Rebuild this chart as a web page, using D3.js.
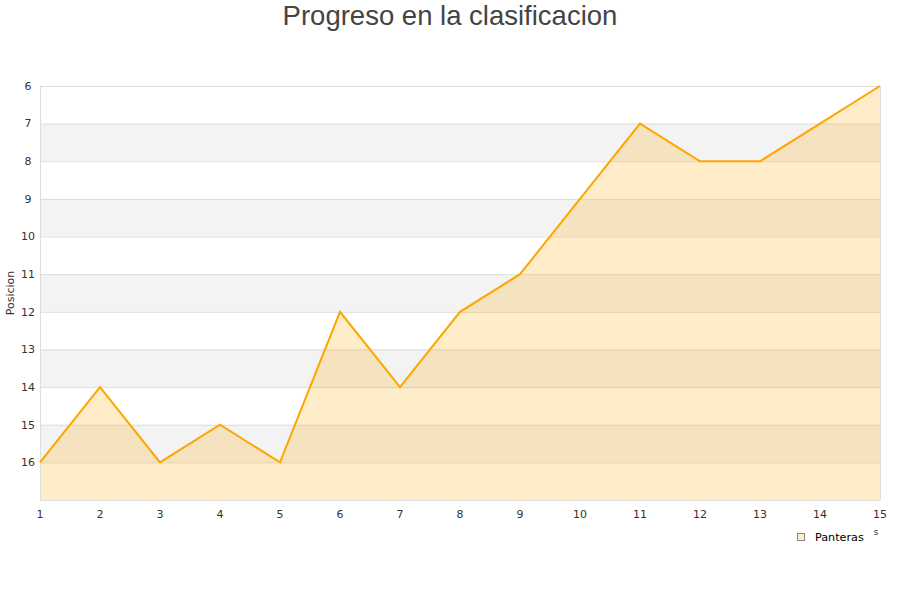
<!DOCTYPE html>
<html><head><meta charset="utf-8">
<script src="https://cdn.jsdelivr.net/npm/d3@7"></script>
<style>body{margin:0;background:#fff}svg{display:block}</style>
</head><body>
<svg id="c" width="900" height="600"></svg>
<script>
const rounds = [1,2,3,4,5,6,7,8,9,10,11,12,13,14,15];
const positions = [16,14,16,15,16,12,14,12,11,9,7,8,8,7,6];
const yTicks = [6,7,8,9,10,11,12,13,14,15,16];
const seriesName = "Panteras";
const title = "Progreso en la clasificacion";
const yTitle = "Posicion";

const svg = d3.select("#c");
const L = 40, R = 880, T = 86, B = 500;
const x = d3.scaleLinear().domain([1,15]).range([L,R]);
const y = d3.scaleLinear().domain([6,17]).range([T,B]);
const font = "'DejaVu Sans', Verdana, sans-serif";

// stripes
const bands = d3.range(6,17);
svg.append("g").selectAll("rect").data(bands).join("rect")
  .attr("x", L).attr("width", R-L)
  .attr("y", d=>y(d)).attr("height", d=>y(d+1)-y(d))
  .attr("fill", d=> d%2===1 ? "#f3f3f3" : "#ffffff");

// grid lines
svg.append("g").selectAll("line").data(yTicks).join("line")
  .attr("x1", L).attr("x2", R)
  .attr("y1", d=>y(d)+0.5).attr("y2", d=>y(d)+0.5)
  .attr("stroke", "#dddddd").attr("stroke-width", 1);

// area
const area = d3.area().x((d,i)=>x(rounds[i])).y0(y(17)).y1(d=>y(d));
svg.append("path").datum(positions).attr("d", area)
  .attr("fill", "#ffa500").attr("fill-opacity", 0.215);

// frame
svg.append("line").attr("x1",L+0.5).attr("x2",L+0.5).attr("y1",T).attr("y2",B).attr("stroke","#dddddd");
svg.append("line").attr("x1",R+0.5).attr("x2",R+0.5).attr("y1",T).attr("y2",B).attr("stroke","#dddddd");
svg.append("line").attr("x1",L).attr("x2",R).attr("y1",B+0.5).attr("y2",B+0.5).attr("stroke","#dddddd");

// line
const line = d3.line().x((d,i)=>x(rounds[i])).y(d=>y(d));
svg.append("path").datum(positions).attr("d", line)
  .attr("fill","none").attr("stroke","#ffa500").attr("stroke-width",2).attr("stroke-linejoin","miter");

// y tick labels
svg.append("g").selectAll("text").data(yTicks).join("text")
  .attr("x", 28).attr("y", d=>y(d)).attr("dy","0.35em")
  .attr("text-anchor","middle").attr("font-family",font).attr("font-size",11)
  .attr("fill","#333").text(d=>d);

// x tick labels
svg.append("g").selectAll("text").data(rounds).join("text")
  .attr("x", d=>x(d)).attr("y", 518)
  .attr("text-anchor","middle").attr("font-family",font).attr("font-size",11)
  .attr("fill","#333").text(d=>d);

// y title
svg.append("text").attr("transform","translate(14,293) rotate(-90)")
  .attr("text-anchor","middle").attr("font-family",font).attr("font-size",11)
  .attr("fill","#333").text(yTitle);

// title
svg.append("text").attr("x",450).attr("y",25).attr("text-anchor","middle")
  .attr("font-family","'Liberation Sans', Arial, sans-serif").attr("font-size",27.5)
  .attr("fill","#444").text(title);

// legend
svg.append("rect").attr("x",797.5).attr("y",533.5).attr("width",7).attr("height",7)
  .attr("fill","#ffecc8").attr("stroke","#888").attr("stroke-width",1);
svg.append("text").attr("x",815).attr("y",541).attr("font-family",font).attr("font-size",11.2)
  .attr("fill","#000").text(seriesName);
svg.append("text").attr("x",876).attr("y",535).attr("text-anchor","middle").attr("font-family",font).attr("font-size",9)
  .attr("fill","#333").text("s");
</script>
</body></html>
